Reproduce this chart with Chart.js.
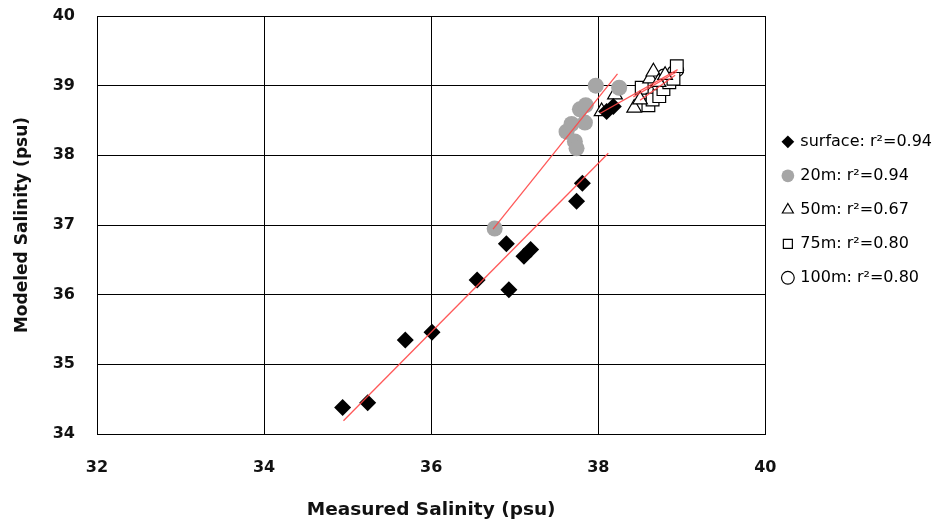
<!DOCTYPE html>
<html>
<head>
<meta charset="utf-8">
<script src="https://cdn.jsdelivr.net/npm/chart.js@4.4.1/dist/chart.umd.min.js"></script>
<style>
html,body{margin:0;padding:0;background:#fff;}
#wrap{width:936px;height:526px;}
</style>
</head>
<body>
<div id="wrap"><canvas id="c" width="936" height="526"></canvas></div>
<script>
// ---- data (measured x, modeled y) ----
const surfaceX = [34.94, 35.24, 35.69, 36.01, 36.55, 36.93, 36.90, 37.11, 37.19, 37.74, 37.81, 38.10, 38.18];
const surfaceY = [34.38, 34.45, 35.35, 35.46, 36.21, 36.07, 36.73, 36.55, 36.65, 37.34, 37.60, 38.63, 38.70];

const m20X = [36.76, 37.62, 37.68, 37.72, 37.74, 37.78, 37.85, 37.84, 37.97, 38.25];
const m20Y = [36.95, 38.34, 38.45, 38.20, 38.10, 38.66, 38.72, 38.47, 39.00, 38.97];

const m50X = [38.04, 38.20, 38.43, 38.50, 38.62, 38.66, 38.72, 38.80];
const m50Y = [38.63, 38.87, 38.68, 38.80, 39.10, 39.20, 39.05, 39.15];

const m75X = [38.52, 38.60, 38.65, 38.73, 38.78, 38.85, 38.90, 38.94];
const m75Y = [38.97, 38.72, 38.80, 38.85, 38.95, 39.05, 39.10, 39.28];

const m100X = [38.66, 38.72, 38.78, 38.85, 38.90, 38.95];
const m100Y = [38.90, 39.00, 39.15, 39.10, 39.20, 39.22];

// regression lines: [x0, x1], [y0, y1]
const fitSurfaceX = [34.95, 38.12], fitSurfaceY = [34.19, 38.03];
const fit20X = [36.74, 38.23], fit20Y = [36.94, 39.17];
const fit50X = [38.02, 38.95], fit50Y = [38.60, 39.23];
const fit75X = [38.42, 38.94], fit75Y = [38.84, 39.20];
const fit100X = [38.50, 38.92], fit100Y = [38.79, 39.15];

const seriesLabels = ['surface: r\u00B2=0.94', '20m: r\u00B2=0.94', '50m: r\u00B2=0.67', '75m: r\u00B2=0.80', '100m: r\u00B2=0.80'];
const xTicks = [32, 34, 36, 38, 40];
const yTicks = [34, 35, 36, 37, 38, 39, 40];

function pts(xs, ys){ return xs.map((x,i)=>({x:x, y:ys[i]})); }

const lineColor = 'rgba(255,70,70,0.9)';
function fitSet(xs, ys){
  return {type:'line', label:'fit', data:pts(xs,ys), borderColor:lineColor, borderWidth:1.3,
    pointRadius:0, fill:false, showLine:true, order:0, isFit:true};
}

const datasets = [
  fitSet(fitSurfaceX, fitSurfaceY), fitSet(fit20X, fit20Y), fitSet(fit50X, fit50Y), fitSet(fit75X, fit75Y), fitSet(fit100X, fit100Y),
  {label:seriesLabels[0], data:pts(surfaceX,surfaceY), pointStyle:'rectRot', pointRadius:8.5,
   backgroundColor:'#000', borderColor:'#000', borderWidth:0, order:1},
  {label:seriesLabels[1], data:pts(m20X,m20Y), pointStyle:'circle', pointRadius:8,
   backgroundColor:'#a6a6a6', borderColor:'#a6a6a6', borderWidth:0, order:1},
  {label:seriesLabels[2], data:pts(m50X,m50Y), pointStyle:'triangle', pointRadius:8.5,
   backgroundColor:'#fff', borderColor:'#000', borderWidth:1.2, order:1},
  {label:seriesLabels[3], data:pts(m75X,m75Y), pointStyle:'rect', pointRadius:9,
   backgroundColor:'#fff', borderColor:'#000', borderWidth:1.2, order:1},
  {label:seriesLabels[4], data:pts(m100X,m100Y), pointStyle:'circle', pointRadius:6,
   backgroundColor:'#fff', borderColor:'#000', borderWidth:1.2, order:1}
];

const tickFont = {family:'DejaVu Sans', size:16, weight:'bold'};
const PAD = {left:0, top:2, right:-6, bottom:0};
new Chart(document.getElementById('c'), {
  type:'scatter',
  data:{datasets:datasets},
  options:{
    responsive:false, animation:false,
    layout:{padding:PAD},
    plugins:{
      tooltip:{enabled:false},
      legend:{
        position:'right', align:'start',
        title:{display:true, text:' ', font:{size:4}, padding:{top:109, bottom:0}},
        labels:{
          filter:(item, data)=>!data.datasets[item.datasetIndex].isFit,
          usePointStyle:true, boxWidth:9, boxHeight:9, padding:18,
          color:'#000', font:{family:'DejaVu Sans', size:16}
        }
      }
    },
    scales:{
      x:{type:'linear', min:32, max:40,
        afterBuildTicks:(ax)=>{ax.ticks = xTicks.map(v=>({value:v}));},
        afterFit:(s)=>{s.height = 92; s.paddingLeft = 0; s.paddingRight = 0;},
        grid:{color:'#000', lineWidth:1, drawTicks:false},
        border:{color:'#000', width:1},
        ticks:{color:'#111', font:tickFont, padding:24},
        title:{display:true, text:'Measured Salinity (psu)', color:'#111',
          font:{family:'DejaVu Sans', size:18.5, weight:'bold'}, padding:{top:0, bottom:5}}
      },
      y:{type:'linear', min:34, max:40,
        afterBuildTicks:(ax)=>{ax.ticks = yTicks.map(v=>({value:v}));},
        afterFit:(s)=>{s.width = 97; s.paddingTop = 16; s.paddingBottom = 0;},
        grid:{color:'#000', lineWidth:1, drawTicks:false},
        border:{color:'#000', width:1},
        ticks:{color:'#111', font:tickFont, padding:22},
        title:{display:true, text:'Modeled Salinity (psu)', color:'#111',
          font:{family:'DejaVu Sans', size:17, weight:'bold'}, padding:{top:12, bottom:0}}
      }
    }
  }
});
</script>
</body>
</html>
